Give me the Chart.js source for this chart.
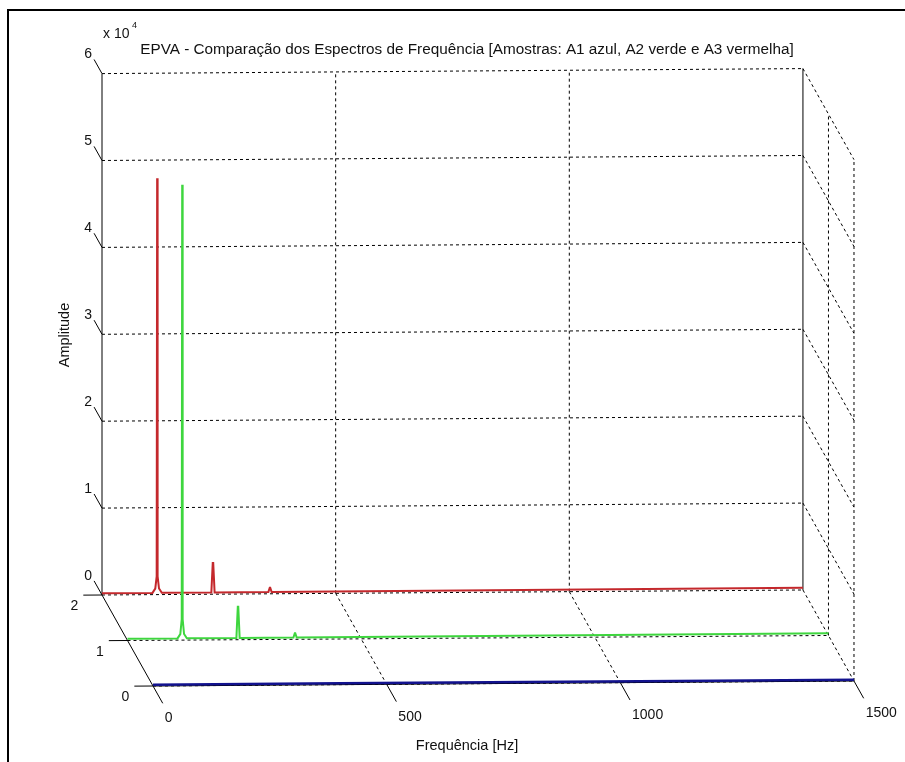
<!DOCTYPE html>
<html>
<head>
<meta charset="utf-8">
<script src="https://cdn.jsdelivr.net/npm/chart.js@4.4.1/dist/chart.umd.min.js"></script>
<style>
body { margin: 0; background: #fff; }
#wrap { width: 905px; height: 762px; position: relative; }
</style>
</head>
<body>
<div id="wrap"><canvas id="spectra"></canvas></div>
<script>
// amostras on the depth axis: A1 = 0 (front, blue), A2 = 1 (green), A3 = 2 (back, red)
var freqA3 = [0, 108, 114, 117, 118, 119, 122, 128, 234, 237, 238, 241, 356, 359, 360, 363, 1500];
var ampA3  = [200, 200, 700, 2100, 47900, 2100, 700, 200, 200, 3600, 3600, 200, 200, 700, 700, 200, 250];

var freqA2 = [0, 107, 113, 116, 117, 118, 121, 127, 233, 236, 237, 240, 355, 358, 359, 362, 1500];
var ampA2  = [200, 200, 700, 2400, 52400, 2400, 700, 200, 200, 3800, 3800, 200, 200, 700, 700, 200, 250];

var freqA1 = [0, 400, 800, 1200, 1500];
var ampA1  = [150, 150, 150, 150, 150];

var freqTicks = [0, 500, 1000, 1500];
var ampTicks = [0, 1, 2, 3, 4, 5, 6];   // x 10^4
var sampleTicks = [0, 1, 2];

var titleText = 'EPVA - Comparação dos Espectros de Frequência [Amostras: A1 azul, A2 verde e A3 vermelha]';

// oblique view: depth step shifts right and down, slight tilt along frequency
var SX = 54.6;      // Hz per sample step
var SY = 5236;      // amplitude units per sample step
var TILT = 0.384;   // amplitude units per Hz
var AMP_MAX = 60000;
var F_MAX = 1500;

function proj(f, s, a) {
    return { x: f + (2 - s) * SX, y: a - (2 - s) * SY + f * TILT };
}

function toPoints(freqs, amps, s) {
    return freqs.map((f, i) => proj(f, s, amps[i]));
}

function px(chart, f, s, a) {
    var p = proj(f, s, a);
    return [chart.scales.x.getPixelForValue(p.x), chart.scales.y.getPixelForValue(p.y)];
}

function seg(ctx, p, q, dash) {
    ctx.setLineDash(dash || []);
    ctx.beginPath();
    ctx.moveTo(p[0], p[1]);
    ctx.lineTo(q[0], q[1]);
    ctx.stroke();
}

var FONT = '"Liberation Sans", Arial, sans-serif';

var boxPlugin = {
    id: 'box3d',
    beforeDatasetsDraw(chart) {
        var ctx = chart.ctx;
        var d = [3, 3];
        ctx.save();
        ctx.strokeStyle = '#000';
        ctx.lineWidth = 1;
        // back wall, right wall and floor grid
        ampTicks.forEach(k => {
            seg(ctx, px(chart, 0, 2, k * 1e4), px(chart, F_MAX, 2, k * 1e4), d);
            seg(ctx, px(chart, F_MAX, 2, k * 1e4), px(chart, F_MAX, 0, k * 1e4), d);
        });
        freqTicks.forEach(f => {
            if (f > 0 && f < F_MAX) {
                seg(ctx, px(chart, f, 2, 0), px(chart, f, 2, AMP_MAX), d);
                seg(ctx, px(chart, f, 2, 0), px(chart, f, 0, 0), d);
            }
        });
        sampleTicks.forEach(s => {
            if (s < 2) {
                seg(ctx, px(chart, F_MAX, s, 0), px(chart, F_MAX, s, AMP_MAX), d);
                seg(ctx, px(chart, 0, s, 0), px(chart, F_MAX, s, 0), d);
            }
        });
        // solid axes and edges
        seg(ctx, px(chart, 0, 2, 0), px(chart, 0, 2, AMP_MAX));
        seg(ctx, px(chart, F_MAX, 2, 0), px(chart, F_MAX, 2, AMP_MAX));
        seg(ctx, px(chart, 0, 2, 0), px(chart, 0, 0, 0));
        seg(ctx, px(chart, 0, 0, 0), px(chart, F_MAX, 0, 0));

        // ticks and tick labels
        ctx.fillStyle = '#111';
        ctx.font = '14px ' + FONT;
        ctx.textAlign = 'right';
        ctx.textBaseline = 'alphabetic';
        ampTicks.forEach(k => {
            var e = px(chart, 0, 2.31, k * 1e4);
            seg(ctx, px(chart, 0, 2, k * 1e4), e);
            ctx.fillText(String(k), e[0] - 2, e[1] - 1);
        });
        sampleTicks.forEach(s => {
            var e = px(chart, -40, s, 0);
            seg(ctx, px(chart, 0, s, 0), e);
            ctx.fillText(String(s), e[0] - 5, e[1] + 15);
        });
        ctx.textAlign = 'left';
        freqTicks.forEach(f => {
            var e = px(chart, f, -0.38, 0);
            seg(ctx, px(chart, f, 0, 0), e);
            ctx.fillText(String(f), e[0] + 2, e[1] + 19);
        });
        ctx.restore();
    },
    afterDraw(chart) {
        var ctx = chart.ctx;
        var top = px(chart, 0, 2, AMP_MAX);
        ctx.save();
        ctx.fillStyle = '#111';
        // exponent
        ctx.textAlign = 'left';
        ctx.font = '14px ' + FONT;
        ctx.fillText('x 10', top[0] + 1, top[1] - 36);
        ctx.font = '9px ' + FONT;
        ctx.fillText('4', top[0] + 30, top[1] - 46);
        // title, sized to the reference width
        var size = 14;
        ctx.font = size + 'px ' + FONT;
        size = size * 652 / ctx.measureText(titleText).width;
        ctx.font = size.toFixed(1) + 'px ' + FONT;
        ctx.textAlign = 'center';
        ctx.fillText(titleText, 467, 54);
        // axis titles
        ctx.font = '14.5px ' + FONT;
        ctx.fillText('Frequência [Hz]', 467, 750);
        ctx.translate(69, 335);
        ctx.rotate(-Math.PI / 2);
        ctx.fillText('Amplitude', 0, 0);
        ctx.restore();
        // figure frame
        ctx.save();
        ctx.fillStyle = '#000';
        ctx.fillRect(7, 9, 898, 2);
        ctx.fillRect(7, 9, 2, 753);
        ctx.restore();
    }
};

var KX = 0.4673;    // px per Hz
var KY = 0.00869;   // px per amplitude unit

var chart = new Chart(document.getElementById('spectra').getContext('2d'), {
    type: 'scatter',
    data: {
        datasets: [{
            label: 'A1',
            data: toPoints(freqA1, ampA1, 0),
            showLine: true,
            borderColor: '#12128e',
            borderWidth: 2.5,
            order: 0
        }, {
            label: 'A2',
            data: toPoints(freqA2, ampA2, 1),
            showLine: true,
            borderColor: '#3ed63e',
            borderWidth: 2,
            order: 1
        }, {
            label: 'A3',
            data: toPoints(freqA3, ampA3, 2),
            showLine: true,
            borderColor: '#c4282c',
            borderWidth: 2,
            order: 2
        }]
    },
    options: {
        responsive: true,
        maintainAspectRatio: false,
        animation: false,
        layout: { padding: 0 },
        elements: { point: { radius: 0 }, line: { tension: 0 } },
        plugins: { legend: { display: false }, tooltip: { enabled: false } },
        scales: {
            x: { type: 'linear', display: false, min: -102 / KX, max: 803 / KX },
            y: { type: 'linear', display: false, min: -(762 - 595) / KY, max: 595 / KY }
        }
    },
    plugins: [boxPlugin]
});
</script>
</body>
</html>
